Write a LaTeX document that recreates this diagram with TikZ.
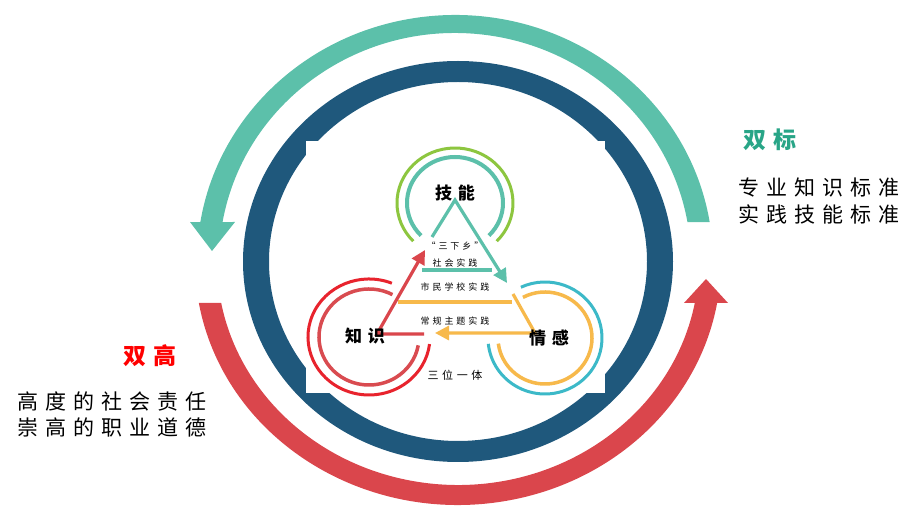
\documentclass[tikz,border=0pt]{standalone}
\usepackage{fontspec}
\newfontfamily\cjk[LetterSpace=33]{Noto Sans CJK SC}
\usetikzlibrary{arrows.meta,calc,positioning}
\definecolor{bandTeal}{RGB}{92,192,170}
\definecolor{ringBlue}{RGB}{31,88,124}
\definecolor{bandRed}{RGB}{218,70,76}
\definecolor{titleTeal}{RGB}{40,165,135}
\definecolor{skillGreen}{RGB}{141,198,63}
\definecolor{feelCyan}{RGB}{60,185,200}
\definecolor{feelOrange}{RGB}{247,185,75}
\definecolor{knowRed}{RGB}{232,35,45}
\definecolor{knowRose}{RGB}{217,75,80}

\begin{document}
\begin{tikzpicture}[x=1pt,y=1pt,
          sideTitle/.style={
            font=\cjk\fontsize{23}{26}\selectfont\bfseries,
            inner sep=0pt},
          sideLine/.style={
            font=\cjk\fontsize{21}{24}\selectfont,
            inner sep=0pt},
          corner/.style={
            font=\cjk\fontsize{17}{20}\selectfont\bfseries,
            inner sep=0pt},
          practice/.style={
            font=\cjk\fontsize{9}{10}\selectfont,
            inner sep=0pt},
          triArrow/.style={
            line width=3.2pt,
            line join=miter,
            -{Triangle[length=14pt,width=14pt]}},
          ringArc/.style={line width=3pt} ]

          \useasboundingbox (0,0) rectangle (906,506);

          \coordinate (bandC) at (455,244.5);
          \coordinate (ringC) at (458,244.5);

          % outer bands
          \fill[bandTeal] ($(bandC)+(9.2:258 and 246.5)$) arc[start angle=9.2,end angle=170.8,x radius=258,y radius=246.5]
            -- (190,284) -- (212,255) -- (235,284)
            -- ($(bandC)+(170.05:236 and 228.5)$) arc[start angle=170.05,end angle=9.95,x radius=236,y radius=228.5] -- cycle;
          \fill[bandRed] ($(ringC)+(189.8:263 and 243.5)$) arc[start angle=189.8,end angle=350.2,x radius=263,y radius=243.5]
            -- (728,203) -- (706,227) -- (684,203)
            -- ($(ringC)+(349.3:241 and 223.5)$) arc[start angle=349.3,end angle=190.7,x radius=241,y radius=223.5] -- cycle;

          \fill[ringBlue,even odd rule] (ringC) ellipse[x radius=215,y radius=200.5] (ringC) ellipse[x radius=189,y radius=179.5];
          \fill[white] (306,113) rectangle (605,365);

          % rings round the three corners
          \coordinate (skillC) at (455,303);
          \coordinate (knowC) at (369,169);
          \coordinate (feelC) at (545,168);
          \draw[skillGreen,ringArc] ($(skillC)+(-44:58 and 55)$) arc[start angle=-44,end angle=224,x radius=58,y radius=55];
          \draw[bandTeal,line width=4pt] ($(skillC)+(-45:48 and 46)$) arc[start angle=-45,end angle=225,x radius=48,y radius=46];
          \draw[knowRed,ringArc] ($(knowC)+(68:61 and 58)$) arc[start angle=68,end angle=353,x radius=61,y radius=58];
          \draw[knowRose,line width=3.5pt] ($(knowC)+(62:50 and 48)$) arc[start angle=62,end angle=350,x radius=50,y radius=48];
          \draw[feelCyan,ringArc] ($(feelC)+(115:57 and 56)$) arc[start angle=115,end angle=-174,x radius=57,y radius=56];
          \draw[feelOrange,line width=3.5pt] ($(feelC)+(118:47 and 46)$) arc[start angle=118,end angle=-173,x radius=47,y radius=46];

          % triangle
          \coordinate (apex) at (455,306);
          \coordinate (skillFoot) at (432,269);
          \coordinate (skillTip) at (507,223);
          \coordinate (knowFoot) at (377,172);
          \coordinate (knowTip) at (425,256);
          \coordinate (knowBar) at (424,172);
          \coordinate (feelTop) at (513,212);
          \coordinate (feelFoot) at (535,173);
          \coordinate (feelTip) at (435,173);

          \draw[bandTeal,triArrow] (skillFoot) -- (apex) -- (skillTip);
          \draw[bandTeal,line width=3.2pt] (422,236) -- (492,236);
          \draw[feelOrange,line width=3.2pt] (398,204) -- (512,204);
          \draw[feelOrange,triArrow] (feelTop) -- (feelFoot) -- (feelTip);
          \draw[bandRed,triArrow] (knowBar) -- (knowFoot) -- (knowTip);

          \node[corner] (skill) at (455,313) {技能};
          \node[corner] (know) at (365,170) {知识};
          \node[corner] (feel) at (549,168) {情感};
          \node[practice] (villages) at (455,260) {“三下乡”};
          \node[practice] (social) at (455,243) {社会实践};
          \node[practice] (school) at (455,218.5) {市民学校实践};
          \node[practice] (theme) at (455,185) {常规主题实践};
          \node[practice,font=\cjk\fontsize{11}{12}\selectfont] (trinity) at (455,131) {三位一体};

          \node[sideTitle,text=titleTeal] (dualStd) at (770,366) {双标};
          \node[sideLine] (stdA) at (819,318) {专业知识标准};
          \node[sideLine,below=7pt of stdA] (stdB) {实践技能标准};

          \node[sideTitle,text=red] (dualHigh) at (150,150) {双高};
          \node[sideLine] (highA) at (112,105) {高度的社会责任};
          \node[sideLine,below=7pt of highA] (highB) {崇高的职业道德};
        \end{tikzpicture}
\end{document}
